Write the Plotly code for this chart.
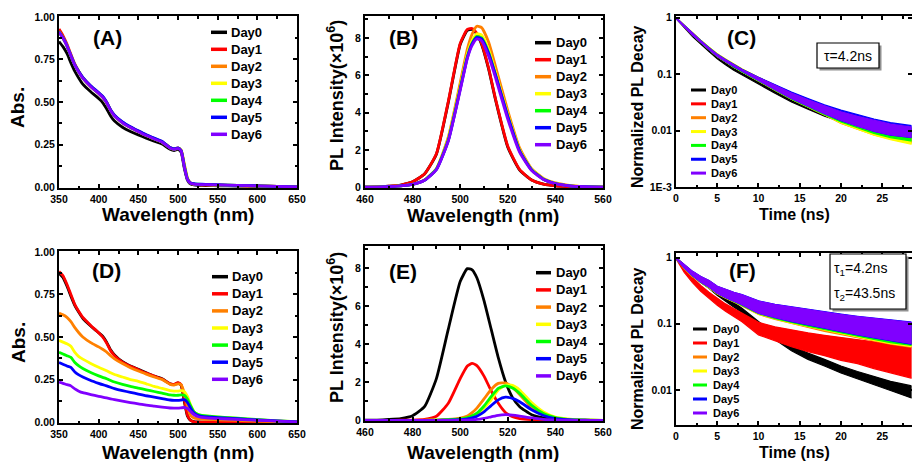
import plotly.graph_objects as go

W, H = 912, 462

DAYS = ["Day0", "Day1", "Day2", "Day3", "Day4", "Day5", "Day6"]
COLORS = ["#000000", "#ff0000", "#ff8000", "#ffff00", "#00ff00", "#0000ff", "#8000ff"]

# ---------------- (A) / (D) absorption ----------------
ABS_WL = [350, 355, 360, 365, 370, 375, 380, 390, 400, 405, 410, 415, 420, 430, 440, 450, 460, 470,
          480, 490, 495, 500, 504, 508, 512, 516, 520, 525, 530, 540, 550, 575, 600, 625, 650]

A_DAY0 = [0.855, 0.825, 0.785, 0.73, 0.68, 0.64, 0.605, 0.56, 0.52, 0.497, 0.46, 0.418, 0.388, 0.352, 0.327, 0.307, 0.288, 0.27,
          0.253, 0.222, 0.215, 0.222, 0.205, 0.11, 0.04, 0.018, 0.013, 0.011, 0.01, 0.009, 0.008, 0.006, 0.005, 0.003, 0.001]
A_DAY1 = [0.928, 0.89, 0.84, 0.78, 0.722, 0.68, 0.643, 0.593, 0.553, 0.531, 0.498, 0.453, 0.421, 0.381, 0.353, 0.329, 0.306, 0.286,
          0.267, 0.233, 0.225, 0.231, 0.214, 0.12, 0.045, 0.022, 0.017, 0.015, 0.014, 0.013, 0.012, 0.009, 0.007, 0.004, 0.002]
A_DAY2 = [0.915, 0.878, 0.832, 0.772, 0.716, 0.676, 0.64, 0.59, 0.55, 0.528, 0.495, 0.45, 0.418, 0.378, 0.35, 0.326, 0.303, 0.283,
          0.264, 0.23, 0.222, 0.228, 0.218, 0.135, 0.052, 0.024, 0.017, 0.015, 0.014, 0.013, 0.012, 0.009, 0.007, 0.004, 0.002]
A_DAY3 = [0.913, 0.877, 0.831, 0.771, 0.716, 0.676, 0.641, 0.591, 0.551, 0.529, 0.496, 0.451, 0.419, 0.379, 0.351, 0.327, 0.304, 0.284,
          0.265, 0.231, 0.223, 0.229, 0.215, 0.128, 0.049, 0.023, 0.018, 0.016, 0.015, 0.014, 0.013, 0.01, 0.007, 0.004, 0.002]
A_DAY4 = [0.912, 0.876, 0.831, 0.771, 0.716, 0.677, 0.642, 0.592, 0.552, 0.53, 0.497, 0.452, 0.42, 0.38, 0.352, 0.328, 0.305, 0.285,
          0.266, 0.231, 0.223, 0.229, 0.214, 0.124, 0.047, 0.023, 0.019, 0.017, 0.016, 0.015, 0.013, 0.01, 0.008, 0.005, 0.002]
A_DAY5 = [0.912, 0.877, 0.832, 0.773, 0.718, 0.679, 0.645, 0.596, 0.556, 0.534, 0.5, 0.455, 0.423, 0.383, 0.355, 0.331, 0.308, 0.288,
          0.268, 0.233, 0.225, 0.231, 0.214, 0.12, 0.045, 0.024, 0.02, 0.018, 0.017, 0.016, 0.014, 0.011, 0.008, 0.005, 0.002]
A_DAY6 = [0.91, 0.875, 0.83, 0.77, 0.715, 0.675, 0.64, 0.59, 0.55, 0.528, 0.495, 0.45, 0.418, 0.378, 0.35, 0.326, 0.303, 0.283,
          0.264, 0.23, 0.222, 0.228, 0.212, 0.12, 0.045, 0.022, 0.018, 0.016, 0.015, 0.014, 0.013, 0.01, 0.007, 0.004, 0.002]

D_DAY0 = [0.875, 0.85, 0.80, 0.74, 0.685, 0.645, 0.61, 0.565, 0.525, 0.505, 0.47, 0.425, 0.395, 0.355, 0.33, 0.31, 0.29, 0.27,
          0.255, 0.225, 0.22, 0.23, 0.215, 0.12, 0.035, 0.01, 0.003, 0.001, 0, 0, 0, 0, 0, 0, 0]
D_DAY1 = [0.885, 0.86, 0.81, 0.75, 0.69, 0.65, 0.615, 0.568, 0.525, 0.50, 0.465, 0.42, 0.39, 0.352, 0.328, 0.308, 0.288, 0.27,
          0.253, 0.225, 0.222, 0.232, 0.22, 0.13, 0.04, 0.01, 0.002, 0, 0, 0, 0, 0, 0, 0, 0]
D_DAY2 = [0.64, 0.63, 0.615, 0.59, 0.555, 0.525, 0.5, 0.467, 0.442, 0.428, 0.412, 0.39, 0.372, 0.344, 0.32, 0.3, 0.282, 0.265,
          0.25, 0.222, 0.218, 0.225, 0.22, 0.17, 0.09, 0.04, 0.025, 0.02, 0.018, 0.016, 0.014, 0.01, 0.006, 0.003, 0.001]
D_DAY3 = [0.48, 0.47, 0.46, 0.445, 0.41, 0.385, 0.37, 0.345, 0.322, 0.312, 0.302, 0.29, 0.28, 0.265, 0.25, 0.24, 0.225, 0.21,
          0.198, 0.185, 0.182, 0.182, 0.185, 0.18, 0.15, 0.1, 0.062, 0.045, 0.038, 0.034, 0.03, 0.022, 0.014, 0.008, 0.003]
D_DAY4 = [0.41, 0.40, 0.39, 0.38, 0.35, 0.33, 0.315, 0.292, 0.272, 0.263, 0.255, 0.245, 0.236, 0.222, 0.21, 0.2, 0.19, 0.18,
          0.17, 0.16, 0.158, 0.158, 0.16, 0.158, 0.135, 0.095, 0.062, 0.046, 0.04, 0.035, 0.031, 0.023, 0.015, 0.008, 0.003]
D_DAY5 = [0.35, 0.34, 0.33, 0.322, 0.295, 0.278, 0.265, 0.245, 0.228, 0.22, 0.213, 0.205, 0.197, 0.185, 0.175, 0.165, 0.155, 0.147,
          0.138, 0.13, 0.128, 0.128, 0.13, 0.132, 0.115, 0.082, 0.055, 0.04, 0.034, 0.03, 0.026, 0.02, 0.013, 0.007, 0.002]
D_DAY6 = [0.235, 0.228, 0.22, 0.213, 0.195, 0.182, 0.173, 0.162, 0.152, 0.147, 0.142, 0.137, 0.132, 0.123, 0.115, 0.108, 0.1, 0.094,
          0.088, 0.083, 0.082, 0.082, 0.084, 0.086, 0.08, 0.062, 0.045, 0.033, 0.028, 0.024, 0.021, 0.016, 0.011, 0.006, 0.002]

# ---------------- (B) PL, fresh ----------------
B_WL = [460, 465, 470, 475, 480, 485, 490, 495, 500, 503, 505, 507, 509, 512, 515, 520, 525, 530, 535, 540, 545, 550, 555, 560]
B_DAY0 = [0.02, 0.03, 0.07, 0.13, 0.3, 0.72, 1.78, 4.55, 7.65, 8.4, 8.45, 8.2, 7.65, 6.3, 4.6, 2.15, 0.93, 0.4, 0.18, 0.09, 0.05, 0.03, 0.015, 0.01]
B_DAY1 = [0.02, 0.03, 0.07, 0.13, 0.3, 0.72, 1.8, 4.6, 7.7, 8.45, 8.5, 8.25, 7.7, 6.35, 4.65, 2.2, 0.95, 0.4, 0.18, 0.09, 0.05, 0.03, 0.015, 0.01]
B_DAY2 = [0.01, 0.02, 0.04, 0.08, 0.17, 0.4, 1.0, 2.7, 5.6, 7.4, 8.2, 8.62, 8.55, 7.75, 6.4, 4.1, 2.1, 1.0, 0.48, 0.24, 0.12, 0.06, 0.03, 0.015]
B_DAY3 = [0.01, 0.02, 0.04, 0.08, 0.17, 0.4, 1.0, 2.6, 5.4, 7.15, 7.85, 8.22, 8.15, 7.35, 6.1, 3.9, 2.0, 0.97, 0.46, 0.22, 0.11, 0.055, 0.028, 0.014]
B_DAY4 = [0.01, 0.02, 0.04, 0.08, 0.16, 0.39, 0.98, 2.55, 5.3, 7.0, 7.72, 8.08, 8.0, 7.2, 5.95, 3.8, 1.95, 0.94, 0.44, 0.21, 0.1, 0.05, 0.025, 0.012]
B_DAY5 = [0.01, 0.02, 0.04, 0.08, 0.16, 0.38, 0.96, 2.5, 5.25, 6.95, 7.68, 8.03, 7.95, 7.15, 5.95, 3.8, 1.95, 0.94, 0.44, 0.21, 0.1, 0.05, 0.025, 0.012]
B_DAY6 = [0.01, 0.02, 0.04, 0.08, 0.16, 0.38, 0.95, 2.5, 5.2, 6.9, 7.6, 7.95, 7.85, 7.0, 5.8, 3.65, 1.87, 0.9, 0.42, 0.2, 0.1, 0.05, 0.025, 0.012]

# ---------------- (E) PL, aged ----------------
E_WL = [460, 465, 470, 475, 480, 485, 490, 495, 500, 503, 505, 507, 510, 513, 516, 519, 522, 525, 530, 535, 540, 545, 550, 555, 560]
E_DAY0 = [0.01, 0.02, 0.05, 0.1, 0.25, 0.72, 2.2, 4.8, 7.3, 7.98, 7.92, 7.5, 6.3, 4.8, 3.3, 2.05, 1.2, 0.72, 0.3, 0.13, 0.06, 0.03, 0.015, 0.008, 0.004]
E_DAY1 = [0.0, 0.0, 0.005, 0.01, 0.02, 0.06, 0.22, 0.9, 2.2, 2.86, 3.0, 2.88, 2.33, 1.56, 0.9, 0.42, 0.2, 0.1, 0.04, 0.02, 0.01, 0.005, 0.003, 0.001, 0.0]
E_DAY2 = [0.0, 0.0, 0.0, 0.0, 0.005, 0.01, 0.02, 0.05, 0.12, 0.23, 0.41, 0.65, 1.13, 1.63, 1.95, 1.97, 1.74, 1.36, 0.68, 0.3, 0.12, 0.05, 0.02, 0.01, 0.005]
E_DAY3 = [0.0, 0.0, 0.0, 0.0, 0.004, 0.008, 0.01, 0.03, 0.07, 0.13, 0.2, 0.33, 0.65, 1.08, 1.6, 1.86, 1.84, 1.6, 0.94, 0.45, 0.18, 0.08, 0.03, 0.015, 0.007]
E_DAY4 = [0.0, 0.0, 0.0, 0.0, 0.004, 0.008, 0.012, 0.035, 0.08, 0.15, 0.24, 0.38, 0.76, 1.25, 1.68, 1.82, 1.7, 1.42, 0.8, 0.37, 0.15, 0.06, 0.025, 0.012, 0.006]
E_DAY5 = [0.0, 0.0, 0.0, 0.0, 0.002, 0.004, 0.006, 0.02, 0.04, 0.08, 0.13, 0.22, 0.45, 0.78, 1.08, 1.22, 1.16, 0.98, 0.56, 0.26, 0.1, 0.04, 0.018, 0.008, 0.004]
E_DAY6 = [0.0, 0.0, 0.0, 0.0, 0.0, 0.0, 0.002, 0.005, 0.01, 0.02, 0.03, 0.05, 0.11, 0.19, 0.27, 0.3, 0.28, 0.23, 0.13, 0.06, 0.025, 0.01, 0.005, 0.0, 0.0]

# ---------------- (C) / (F) PL decay: upper and lower edge of each noisy trace ----------------
T_NS = [0, 1, 2, 3, 4, 5, 6, 7, 8, 10, 12, 14, 16, 18, 20, 22, 24, 26, 28.6]

C_HI = [
    [1.0, 0.70, 0.49, 0.36, 0.265, 0.2, 0.158, 0.127, 0.104, 0.074, 0.053, 0.038, 0.029, 0.022, 0.017, 0.014, 0.0115, 0.0098, 0.0086],
    [1.0, 0.72, 0.52, 0.39, 0.292, 0.223, 0.18, 0.146, 0.12, 0.085, 0.06, 0.044, 0.033, 0.025, 0.0195, 0.016, 0.0132, 0.0114, 0.0102],
    [1.0, 0.735, 0.53, 0.4, 0.3, 0.23, 0.185, 0.15, 0.123, 0.087, 0.062, 0.045, 0.034, 0.026, 0.02, 0.0163, 0.0135, 0.0116, 0.0104],
    [1.0, 0.735, 0.53, 0.4, 0.3, 0.23, 0.186, 0.151, 0.124, 0.088, 0.063, 0.046, 0.035, 0.027, 0.0205, 0.0168, 0.014, 0.012, 0.0107],
    [1.0, 0.73, 0.525, 0.395, 0.296, 0.226, 0.182, 0.148, 0.122, 0.087, 0.063, 0.046, 0.035, 0.027, 0.021, 0.0172, 0.0144, 0.0124, 0.011],
    [1.0, 0.73, 0.522, 0.392, 0.293, 0.224, 0.181, 0.147, 0.122, 0.088, 0.065, 0.048, 0.037, 0.0285, 0.023, 0.019, 0.016, 0.0138, 0.0122],
    [1.0, 0.73, 0.52, 0.39, 0.29, 0.222, 0.18, 0.146, 0.121, 0.087, 0.063, 0.046, 0.035, 0.027, 0.0215, 0.0178, 0.015, 0.013, 0.0115],
]
C_LO = [
    [0.97, 0.67, 0.465, 0.34, 0.25, 0.188, 0.147, 0.117, 0.095, 0.066, 0.046, 0.032, 0.024, 0.018, 0.0145, 0.0115, 0.0093, 0.008, 0.007],
    [0.97, 0.69, 0.49, 0.365, 0.272, 0.206, 0.165, 0.133, 0.108, 0.075, 0.052, 0.036, 0.026, 0.019, 0.0138, 0.011, 0.0088, 0.0074, 0.0063],
    [0.97, 0.69, 0.49, 0.365, 0.272, 0.206, 0.165, 0.133, 0.108, 0.075, 0.052, 0.036, 0.026, 0.0188, 0.0133, 0.0106, 0.0084, 0.0071, 0.006],
    [0.97, 0.69, 0.49, 0.365, 0.272, 0.206, 0.165, 0.133, 0.108, 0.075, 0.052, 0.036, 0.026, 0.019, 0.0135, 0.0106, 0.0083, 0.0069, 0.0057],
    [0.97, 0.69, 0.49, 0.365, 0.272, 0.206, 0.165, 0.133, 0.108, 0.075, 0.052, 0.036, 0.026, 0.0192, 0.0142, 0.0112, 0.0089, 0.0075, 0.0065],
    [0.97, 0.69, 0.49, 0.368, 0.274, 0.208, 0.167, 0.135, 0.111, 0.077, 0.054, 0.037, 0.027, 0.02, 0.015, 0.012, 0.0097, 0.0083, 0.0075],
    [0.97, 0.69, 0.49, 0.37, 0.274, 0.208, 0.167, 0.135, 0.111, 0.077, 0.053, 0.037, 0.027, 0.02, 0.0152, 0.012, 0.0098, 0.0084, 0.0076],
]

F_HI = [
    [1.0, 0.74, 0.58, 0.47, 0.39, 0.31, 0.255, 0.21, 0.172, 0.108, 0.07, 0.047, 0.036, 0.029, 0.023, 0.019, 0.016, 0.0135, 0.0115],
    [1.0, 0.68, 0.5, 0.38, 0.3, 0.245, 0.2, 0.17, 0.145, 0.105, 0.09, 0.08, 0.073, 0.067, 0.062, 0.057, 0.053, 0.049, 0.045],
    [1.0, 0.77, 0.61, 0.51, 0.44, 0.36, 0.32, 0.29, 0.265, 0.21, 0.185, 0.168, 0.153, 0.14, 0.128, 0.118, 0.11, 0.103, 0.096],
    [1.0, 0.77, 0.61, 0.51, 0.44, 0.36, 0.32, 0.29, 0.266, 0.212, 0.187, 0.17, 0.155, 0.142, 0.13, 0.12, 0.112, 0.104, 0.097],
    [1.0, 0.775, 0.615, 0.515, 0.445, 0.365, 0.325, 0.295, 0.27, 0.215, 0.19, 0.173, 0.158, 0.145, 0.133, 0.123, 0.115, 0.107, 0.1],
    [1.0, 0.78, 0.62, 0.52, 0.45, 0.37, 0.33, 0.3, 0.276, 0.222, 0.197, 0.18, 0.165, 0.152, 0.14, 0.13, 0.122, 0.114, 0.106],
    [1.0, 0.78, 0.62, 0.52, 0.45, 0.37, 0.33, 0.3, 0.275, 0.22, 0.195, 0.178, 0.163, 0.15, 0.138, 0.128, 0.12, 0.112, 0.104],
]
F_LO = [
    [0.97, 0.69, 0.53, 0.42, 0.345, 0.27, 0.22, 0.18, 0.148, 0.09, 0.058, 0.039, 0.029, 0.023, 0.018, 0.0145, 0.012, 0.0098, 0.0075],
    [0.96, 0.6, 0.42, 0.31, 0.24, 0.19, 0.155, 0.128, 0.107, 0.068, 0.055, 0.045, 0.038, 0.033, 0.028, 0.025, 0.021, 0.018, 0.015],
    [0.97, 0.69, 0.52, 0.42, 0.35, 0.283, 0.243, 0.213, 0.188, 0.138, 0.116, 0.1, 0.088, 0.077, 0.068, 0.061, 0.055, 0.049, 0.044],
    [0.97, 0.69, 0.52, 0.42, 0.35, 0.284, 0.245, 0.215, 0.19, 0.14, 0.118, 0.102, 0.09, 0.079, 0.07, 0.063, 0.056, 0.05, 0.045],
    [0.97, 0.695, 0.525, 0.425, 0.355, 0.287, 0.247, 0.217, 0.192, 0.142, 0.12, 0.105, 0.092, 0.082, 0.072, 0.065, 0.058, 0.052, 0.047],
    [0.97, 0.7, 0.53, 0.43, 0.36, 0.29, 0.25, 0.22, 0.195, 0.145, 0.124, 0.108, 0.095, 0.085, 0.076, 0.068, 0.061, 0.055, 0.049],
    [0.97, 0.7, 0.53, 0.43, 0.36, 0.29, 0.25, 0.22, 0.195, 0.145, 0.125, 0.11, 0.097, 0.087, 0.077, 0.069, 0.062, 0.056, 0.05],
]

A_SERIES = [A_DAY0, A_DAY1, A_DAY2, A_DAY3, A_DAY4, A_DAY5, A_DAY6]
D_SERIES = [D_DAY0, D_DAY1, D_DAY2, D_DAY3, D_DAY4, D_DAY5, D_DAY6]
B_SERIES = [B_DAY0, B_DAY1, B_DAY2, B_DAY3, B_DAY4, B_DAY5, B_DAY6]
E_SERIES = [E_DAY0, E_DAY1, E_DAY2, E_DAY3, E_DAY4, E_DAY5, E_DAY6]

FONT = "Liberation Sans, Arial, sans-serif"


def fx(px):
    return px / W


def fy(py):
    return 1 - py / H


fig = go.Figure()

# spectra
for x_wl, series, ax in [(ABS_WL, A_SERIES, "1"), (B_WL, B_SERIES, "2"), (ABS_WL, D_SERIES, "4"), (E_WL, E_SERIES, "5")]:
    for name, col, ys in zip(DAYS, COLORS, series):
        fig.add_trace(go.Scatter(x=x_wl, y=ys, mode="lines", name=name, showlegend=False,
                                 line=dict(color=col, width=2.8, shape="spline", smoothing=0.5),
                                 xaxis="x" + ("" if ax == "1" else ax), yaxis="y" + ("" if ax == "1" else ax)))

# decays as noisy bands
for his, los, ax in [(C_HI, C_LO, "3"), (F_HI, F_LO, "6")]:
    for name, col, hi, lo in zip(DAYS, COLORS, his, los):
        fig.add_trace(go.Scatter(x=T_NS + T_NS[::-1], y=hi + lo[::-1], mode="lines", name=name,
                                 showlegend=False, fill="toself", fillcolor=col,
                                 line=dict(color=col, width=1.2),
                                 xaxis="x" + ax, yaxis="y" + ax))

# domains in pixels: (left, right, top, bottom)
DOM = {
    "1": (59, 297, 16, 188),
    "2": (365, 603, 16, 188),
    "3": (676, 911.5, 16, 187),
    "4": (59, 297, 251, 423),
    "5": (365, 603, 246, 421),
    "6": (676, 911.5, 253, 425),
}

tickfont = dict(family=FONT, size=10.5, color="black", weight="bold")


def axis_common():
    return dict(showline=True, linecolor="black", linewidth=2, mirror="ticks", ticks="inside",
                ticklen=4, tickwidth=1.5, tickcolor="black", showgrid=False, zeroline=False,
                tickfont=tickfont, automargin=False)


layout = dict(width=W, height=H, margin=dict(l=0, r=0, t=0, b=0, pad=0, autoexpand=False),
              paper_bgcolor="white", plot_bgcolor="white", showlegend=False)

for ax, (l, r, t, b) in DOM.items():
    xa = axis_common()
    ya = axis_common()
    xa["domain"] = [fx(l), fx(r)]
    ya["domain"] = [fy(b), fy(t)]
    xa["anchor"] = "y" + ("" if ax == "1" else ax)
    ya["anchor"] = "x" + ("" if ax == "1" else ax)
    if ax in ("1", "4"):
        xa.update(range=[350, 650], tickvals=[350, 400, 450, 500, 550, 600, 650],
                  minor=dict(dtick=25, ticks="inside", ticklen=2.5, tickcolor="black"))
        ya.update(range=[-0.005, 1.005], tickvals=[0, 0.25, 0.5, 0.75, 1.0], tickformat=".2f",
                  minor=dict(dtick=0.125, ticks="inside", ticklen=2.5, tickcolor="black"))
    elif ax in ("2", "5"):
        xa.update(range=[460, 560], tickvals=[460, 480, 500, 520, 540, 560],
                  minor=dict(dtick=10, ticks="inside", ticklen=2.5, tickcolor="black"))
        ya.update(range=[-0.03, 9.17], tickvals=[0, 2, 4, 6, 8],
                  minor=dict(dtick=1, ticks="inside", ticklen=2.5, tickcolor="black"))
    else:
        xa.update(range=[0, 28.55], tickvals=[0, 5, 10, 15, 20, 25],
                  minor=dict(dtick=2.5, ticks="inside", ticklen=2.5, tickcolor="black"))
        if ax == "3":
            ya.update(type="log", range=[-3.0, 0.03], tickvals=[1, 0.1, 0.01, 0.001],
                      ticktext=["1", "0.1", "0.01", "1E-3"])
        else:
            ya.update(type="log", range=[-2.53, 0.07], tickvals=[1, 0.1, 0.01],
                      ticktext=["1", "0.1", "0.01"])
    key = "" if ax == "1" else ax
    layout["xaxis" + key] = xa
    layout["yaxis" + key] = ya

annotations = []
shapes = []


def ann(text, px, py, size, bold=True, angle=0, xanchor="center", yanchor="middle"):
    f = dict(family=FONT, size=size, color="black")
    if bold:
        f["weight"] = "bold"
    annotations.append(dict(text=text, x=fx(px), y=fy(py), xref="paper", yref="paper",
                            showarrow=False, font=f, textangle=angle,
                            xanchor=xanchor, yanchor=yanchor))


# axis titles
ann("Wavelength (nm)", 178, 214, 19)
ann("Wavelength (nm)", 483, 215, 19)
ann("Time (ns)", 794, 214, 16)
ann("Wavelength (nm)", 178, 452, 19)
ann("Wavelength (nm)", 483, 452, 19)
ann("Time (ns)", 794, 452, 16)
ann("Abs.", 18, 108, 19, angle=-90)
ann("Abs.", 18, 343, 19, angle=-90)
ann("PL Intensity(×10<sup>6</sup>)", 335, 96, 18, angle=-90)
ann("PL Intensity(×10<sup>6</sup>)", 335, 328, 18, angle=-90)
ann("Normalized PL Decay", 637, 107, 16, angle=-90)
ann("Normalized PL Decay", 637, 349, 16, angle=-90)

# panel labels
for lab, px, py in [("(A)", 107, 37), ("(B)", 403, 37), ("(C)", 741, 37),
                    ("(D)", 106, 270), ("(E)", 403, 271), ("(F)", 742, 270)]:
    ann(lab, px, py, 21)

# manual legends: (line x0, line x1, text x, first row y, row step, font size, line width)
LEG = [
    (211, 227, 229, 32.3, 17.0, 13, 3.5),
    (535, 551, 554, 42.7, 17.0, 13, 3.5),
    (691, 706, 709, 90.0, 13.85, 11, 3.0),
    (212, 228, 230, 276.7, 17.1, 13, 3.5),
    (536, 551, 554, 272.7, 17.2, 13, 3.5),
    (693, 707, 711, 329.0, 14.0, 11, 3.0),
]
for (x0, x1, xt, y0, dy, fs, lw) in LEG:
    for i, (name, col) in enumerate(zip(DAYS, COLORS)):
        yy = y0 + i * dy
        shapes.append(dict(type="line", xref="paper", yref="paper", x0=fx(x0), x1=fx(x1),
                           y0=fy(yy), y1=fy(yy), line=dict(color=col, width=lw)))
        ann(name, xt, yy, fs, xanchor="left")

# tau boxes with shadow
for (bx0, bx1, by0, by1) in [(817, 879, 43, 68), (830, 906, 254, 309)]:
    shapes.append(dict(type="rect", xref="paper", yref="paper", x0=fx(bx0 + 2.5), x1=fx(bx1 + 2.5),
                       y0=fy(by1 + 2.5), y1=fy(by0 + 2.5), fillcolor="#909090", line=dict(width=0)))
    shapes.append(dict(type="rect", xref="paper", yref="paper", x0=fx(bx0), x1=fx(bx1),
                       y0=fy(by1), y1=fy(by0), fillcolor="white", line=dict(color="black", width=1.2)))

ann("τ=4.2ns", 848, 56, 14, bold=False)
ann("τ<sub>1</sub>=4.2ns", 832, 269, 14, bold=False, xanchor="left")
ann("τ<sub>2</sub>=43.5ns", 832, 294, 14, bold=False, xanchor="left")

layout["annotations"] = annotations
layout["shapes"] = shapes
fig.update_layout(**layout)

fig.write_html("out.html", config={"displayModeBar": False},
               post_script="document.body.style.margin='0';document.body.style.padding='0';")
